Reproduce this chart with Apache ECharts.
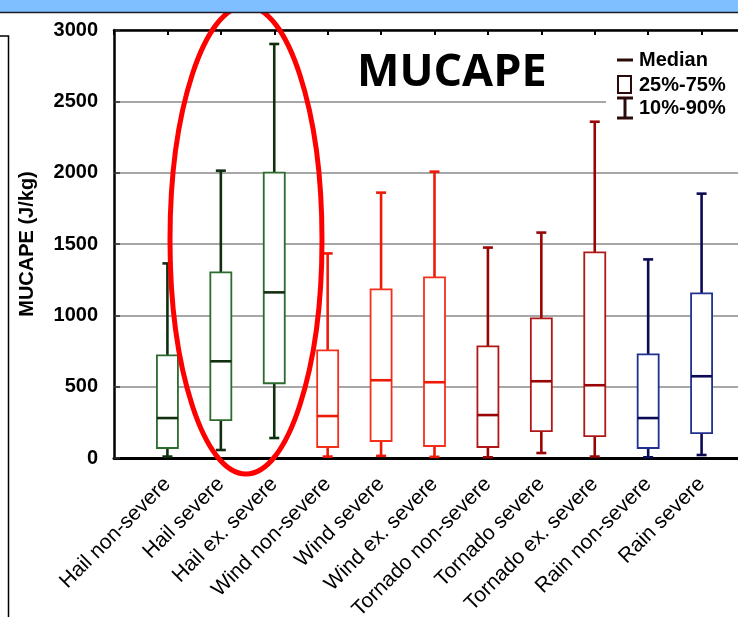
<!DOCTYPE html>
<html>
<head>
<meta charset="utf-8">
<script src="https://cdn.jsdelivr.net/npm/echarts@6/dist/echarts.min.js"></script>
<style>
html,body{margin:0;padding:0;background:#fff;}
#chart{width:738px;height:617px;}
</style>
</head>
<body>
<div id="chart"></div>
<script>
// ---- data ----
const categories = ['Hail non-severe','Hail severe','Hail ex. severe','Wind non-severe','Wind severe','Wind ex. severe','Tornado non-severe','Tornado severe','Tornado ex. severe','Rain non-severe','Rain severe'];
const p10    = [10, 56, 140, 10, 15, 8, 5, 35, 10, 5, 21];
const p25    = [70, 266, 524, 77, 119, 84, 77, 189, 154, 70, 175];
const median = [280, 678, 1161, 294, 545, 531, 301, 538, 510, 280, 573];
const p75    = [720, 1301, 2000, 755, 1182, 1266, 783, 979, 1441, 727, 1154];
const p90    = [1364, 2014, 2902, 1434, 1860, 2007, 1475, 1580, 2357, 1392, 1853];
const yTicks = [0, 500, 1000, 1500, 2000, 2500, 3000];
const yTitle = 'MUCAPE (J/kg)';
const chartTitle = 'MUCAPE';
const legendLabels = ['Median', '25%-75%', '10%-90%'];

// ---- styles ----
const groupColors = {
  Hail:    {box: '#2d6b2d', whisker: '#0f2f0f'},
  Wind:    {box: '#f5301a', whisker: '#ee1a08'},
  Tornado: {box: '#b01818', whisker: '#990505'},
  Rain:    {box: '#20308f', whisker: '#0a0a55'}
};

const axisCats = [''].concat(categories, ['']);
const seriesData = categories.map((c, i) => [i + 1, p10[i], p25[i], median[i], p75[i], p90[i], c.split(' ')[0]]);

function renderBox(params, api) {
  const x = api.value(0);
  const grp = seriesData[params.dataIndex][6];
  const col = groupColors[grp];
  const pLo = api.coord([x, api.value(1)]);
  const pQ1 = api.coord([x, api.value(2)]);
  const pMd = api.coord([x, api.value(3)]);
  const pQ3 = api.coord([x, api.value(4)]);
  const pHi = api.coord([x, api.value(5)]);
  const cx = pMd[0];
  const bw = 21, cw = 10;
  const wStyle = {stroke: col.whisker, lineWidth: 2.6, fill: null};
  return {
    type: 'group',
    children: [
      {type: 'line', shape: {x1: cx, y1: pHi[1], x2: cx, y2: pQ3[1]}, style: wStyle},
      {type: 'line', shape: {x1: cx, y1: pQ1[1], x2: cx, y2: pLo[1]}, style: wStyle},
      {type: 'line', shape: {x1: cx - cw/2, y1: pHi[1], x2: cx + cw/2, y2: pHi[1]}, style: wStyle},
      {type: 'line', shape: {x1: cx - cw/2, y1: pLo[1], x2: cx + cw/2, y2: pLo[1]}, style: wStyle},
      {type: 'rect', shape: {x: cx - bw/2, y: pQ3[1], width: bw, height: pQ1[1] - pQ3[1]},
        style: {fill: '#fff', stroke: col.box, lineWidth: 1.8}},
      {type: 'line', shape: {x1: cx - bw/2, y1: pMd[1], x2: cx + bw/2, y2: pMd[1]}, style: {stroke: col.whisker, lineWidth: 2.6}}
    ]
  };
}

const chart = echarts.init(document.getElementById('chart'), null, {renderer: 'canvas'});
const legendDark = '#2a0a0a';
const option = {
  backgroundColor: '#fff',
  animation: false,
  grid: {left: 114, right: -17, top: 30, bottom: 159, containLabel: false, outerBoundsMode: 'none'},
  xAxis: [
    {
      type: 'category', data: axisCats, boundaryGap: false, position: 'bottom',
      axisLine: {lineStyle: {color: '#000', width: 3}},
      axisTick: {show: false},
      axisLabel: {interval: 0, rotate: 45, margin: 23, fontSize: 21, color: '#000',
        fontFamily: 'Liberation Sans', fontWeight: 'normal', hideOverlap: false},
      splitLine: {show: false}
    },
    {
      type: 'category', data: axisCats, boundaryGap: false, position: 'top',
      axisLine: {lineStyle: {color: '#000', width: 2.5}},
      axisTick: {show: true, inside: true, length: 5, interval: 0, lineStyle: {color: '#000', width: 2}},
      axisLabel: {show: false},
      splitLine: {show: false}
    }
  ],
  yAxis: {
    type: 'value', min: yTicks[0], max: yTicks[yTicks.length - 1], interval: yTicks[1] - yTicks[0],
    name: yTitle, nameLocation: 'middle', nameRotate: 90, nameGap: 77,
    nameTextStyle: {fontSize: 20, fontWeight: 'bold', color: '#000', fontFamily: 'Liberation Sans'},
    axisLine: {show: true, lineStyle: {color: '#000', width: 2.5}},
    axisTick: {show: true, inside: true, length: 6, lineStyle: {color: '#333', width: 1.5}},
    axisLabel: {fontSize: 20, fontWeight: 'bold', color: '#000', margin: 16, fontFamily: 'Liberation Sans',
      formatter: v => String(v)},
    splitLine: {show: true, lineStyle: {color: '#8a8a8a', width: 1.5}}
  },
  series: [{
    type: 'custom',
    renderItem: renderBox,
    encode: {x: 0, y: [1, 2, 3, 4, 5]},
    data: seriesData,
    clip: false,
    z: 5
  }],
  graphic: [
    // header strip
    {type: 'rect', shape: {x: 0, y: 0, width: 738, height: 12}, style: {fill: '#80bfff'}, z: 100},
    {type: 'line', shape: {x1: 0, y1: 12.5, x2: 738, y2: 12.5}, style: {stroke: '#1a1a2a', lineWidth: 1.5}, z: 100},
    // left frame
    {type: 'polyline', shape: {points: [[0, 36], [8.5, 36], [8.5, 617]]}, style: {stroke: '#000', lineWidth: 1.5, fill: null}, z: 100},
    // title
    {type: 'text', x: 357, y: 73, style: {text: chartTitle, font: 'bold 45px "Open Sans"', fill: '#000', textVerticalAlign: 'middle'}, z: 50},
    // legend
    {type: 'rect', shape: {x: 606, y: 44, width: 140, height: 78}, style: {fill: '#fff'}, z: 40},
    {type: 'line', shape: {x1: 617, y1: 60, x2: 633, y2: 60}, style: {stroke: legendDark, lineWidth: 3}, z: 50},
    {type: 'rect', shape: {x: 618, y: 76, width: 13, height: 17}, style: {fill: '#fff', stroke: legendDark, lineWidth: 2}, z: 50},
    {type: 'line', shape: {x1: 625, y1: 98, x2: 625, y2: 118}, style: {stroke: legendDark, lineWidth: 3}, z: 50},
    {type: 'line', shape: {x1: 617, y1: 98, x2: 633, y2: 98}, style: {stroke: legendDark, lineWidth: 3}, z: 50},
    {type: 'line', shape: {x1: 617, y1: 118, x2: 633, y2: 118}, style: {stroke: legendDark, lineWidth: 3}, z: 50},
    {type: 'text', x: 639, y: 60, style: {text: legendLabels[0], font: 'bold 20px "Liberation Sans"', fill: '#000', textVerticalAlign: 'middle'}, z: 50},
    {type: 'text', x: 639, y: 85, style: {text: legendLabels[1], font: 'bold 20px "Liberation Sans"', fill: '#000', textVerticalAlign: 'middle'}, z: 50},
    {type: 'text', x: 639, y: 108, style: {text: legendLabels[2], font: 'bold 20px "Liberation Sans"', fill: '#000', textVerticalAlign: 'middle'}, z: 50},
    // highlight ellipse
    {type: 'ellipse', shape: {cx: 246, cy: 240, rx: 76, ry: 234}, style: {fill: null, stroke: '#ff0000', lineWidth: 5}, z: 60}
  ]
};
chart.setOption(option);
</script>
</body>
</html>
